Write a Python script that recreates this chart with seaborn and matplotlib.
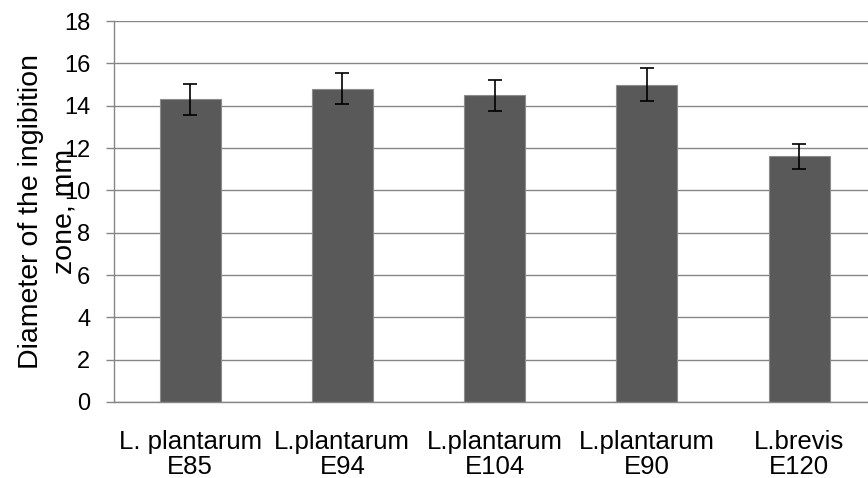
import matplotlib.pyplot as plt
import seaborn as sns
import numpy as np
import pandas as pd

# values
strains = ["L. plantarum\nE85", "L.plantarum\nE94", "L.plantarum\nE104",
           "L.plantarum\nE90", "L.brevis\nE120"]
diameter = [14.3, 14.8, 14.5, 15.0, 11.6]
error = [0.72, 0.74, 0.73, 0.76, 0.58]

df = pd.DataFrame({"Strain": strains, "Diameter": diameter, "Error": error})

sns.set_style("white")
plt.rcParams["font.family"] = ["Liberation Sans", "DejaVu Sans"]

fig = plt.figure(figsize=(8.68, 4.78), dpi=100)
ax = fig.add_axes([0.1313, 0.159, 0.877, 0.797])

sns.barplot(data=df, x="Strain", y="Diameter", color="#595959", saturation=1,
            width=0.4, edgecolor="#8c8c8c", linewidth=0.8, ax=ax)
ax.errorbar(np.arange(len(strains)), df["Diameter"], yerr=df["Error"],
            fmt="none", ecolor="black", elinewidth=1.2, capsize=5, capthick=1.2)

ax.set_xlim(-0.5, len(strains) - 0.5)
ax.set_ylim(0, 18)
ax.set_yticks(range(0, 19, 2))
ax.set_axisbelow(True)
ax.yaxis.grid(True, color="#868686", linewidth=1)

# category boundaries get the tick marks, labels sit in between
ax.set_xticks(np.arange(-0.5, len(strains)), minor=True)
ax.tick_params(axis="x", which="major", length=0, pad=20, labelsize=18.5,
               labelcolor="black")
ax.tick_params(axis="x", which="minor", direction="out", length=5.5,
               width=1, color="#868686")
ax.tick_params(axis="y", direction="out", length=6, width=1,
               color="#868686", pad=11, labelsize=17, left=True,
               labelcolor="black")
for lbl in ax.get_xticklabels():
    lbl.set_linespacing(1.05)

for s in ["top", "right"]:
    ax.spines[s].set_visible(False)
for s in ["left", "bottom"]:
    ax.spines[s].set_color("#868686")
    ax.spines[s].set_linewidth(1)

ax.set_xlabel("")
ax.set_ylabel("Diameter of the ingibition\nzone, mm", fontsize=20.5,
              color="black", linespacing=1.35)
ax.yaxis.set_label_coords(-0.048, 0.5)

plt.savefig("out.png", dpi=100)
